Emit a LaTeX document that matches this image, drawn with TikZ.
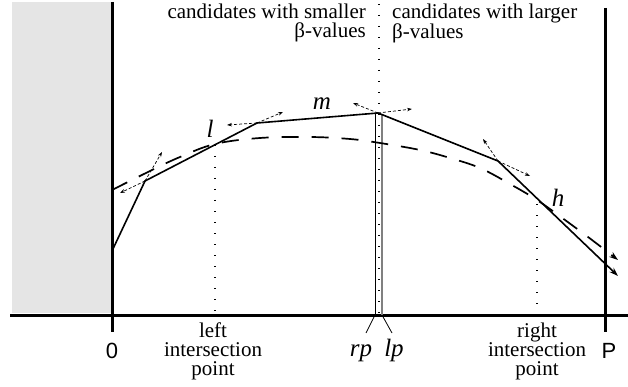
\documentclass[tikz,border=0pt]{standalone}
\usepackage{fontspec}
\setmainfont{Liberation Serif}
\newfontfamily\axfont{Liberation Sans}
\usetikzlibrary{arrows.meta}
\begin{document}
\begin{tikzpicture}[x=1pt,y=-1pt,
  txt/.style={inner sep=0pt,font=\fontsize{21}{19}\selectfont},
  txtb/.style={inner sep=0pt,font=\fontsize{21}{19}\selectfont,align=center},
  itl/.style={inner sep=0pt,font=\fontsize{25}{25}\selectfont\itshape},
  axl/.style={inner sep=0pt,font=\fontsize{22}{22}\selectfont\axfont},
  axisline/.style={line width=3pt},
  poly/.style={line width=1.6pt},
  dcurve/.style={line width=1.7pt,dash pattern=on 17pt off 13pt},
  tang/.style={line width=0.7pt,dash pattern=on 3pt off 2pt,-{Stealth[length=5pt,width=3.5pt]}},
  dotl/.style={line width=1.2pt,dash pattern=on 1pt off 10pt},
  tick/.style={line width=0.8pt}]
\useasboundingbox (0,0) rectangle (628,387);
% gray region
\fill[gray!20] (12,2) rectangle (112,313);
% key points
\coordinate (o0) at (112,332);
\coordinate (otop) at (112,2);
\coordinate (ax0) at (10,315);
\coordinate (ax1) at (628,315);
\coordinate (p0) at (605,332);
\coordinate (ptop) at (605,8);
\coordinate (a) at (112,251);
\coordinate (b) at (145,181);
\coordinate (c) at (257,123);
\coordinate (d) at (378,113);
\coordinate (e) at (498,161);
\coordinate (f) at (618,276);
% axes
\draw[axisline] (otop) -- (o0);
\draw[axisline] (ptop) -- (p0);
\draw[axisline] (ax0) -- (ax1);
% dotted verticals
\coordinate (ctop) at (379,4);
\coordinate (cbot) at (379,313);
\draw[dotl] (ctop) -- (cbot);
\coordinate (lip) at (215,145);
\coordinate (lib) at (215,313);
\draw[dotl] (lip) -- (lib);
\coordinate (rip) at (537,204);
\coordinate (rib) at (537,313);
\draw[dotl] (rip) -- (rib);
% rp / lp lines
\coordinate (rpt) at (375,113);
\coordinate (rpb) at (375,315);
\coordinate (lpt) at (382,115);
\coordinate (lpb) at (382,315);
\draw[line width=1pt] (rpt) -- (rpb);
\draw[line width=1.2pt,gray] (lpt) -- (lpb);
\coordinate (rpe) at (366,333);
\coordinate (lpe) at (392,333);
\draw[tick] (rpb) -- (rpe);
\draw[tick] (lpb) -- (lpe);
% dashed curve
\draw[dcurve,-{Stealth[length=9pt,width=6pt]}] plot[smooth,tension=0.6] coordinates
 {(112,190) (150,171) (180,157) (215,144) (260,138) (310,137) (350,139) (380,143) (420,150) (450,158) (480,168) (510,184) (537,200) (565,220) (592,240) (618,260)};
% polyline
\draw[poly,-{Stealth[length=9pt,width=6pt]}] (a) -- (b) -- (c) -- (d) -- (e) -- (f);
% tangent arrows
\coordinate (b1) at (120,193);
\coordinate (b2) at (162,152);
\coordinate (c1) at (227,125);
\coordinate (c2) at (283,112);
\coordinate (d1) at (353,103);
\coordinate (d2) at (412,109);
\coordinate (e1) at (483,139);
\coordinate (e2) at (530,176);
\draw[tang] (b) -- (b1);
\draw[tang] (b) -- (b2);
\draw[tang] (c) -- (c1);
\draw[tang] (c) -- (c2);
\draw[tang] (d) -- (d1);
\draw[tang] (d) -- (d2);
\draw[tang] (e) -- (e1);
\draw[tang] (e) -- (e2);
% labels
\node[itl,anchor=base] (ll) at (210,138) {l};
\node[itl,anchor=base] (lm) at (322,110) {m};
\node[itl,anchor=base] (lh) at (558,207) {h};
\node[itl,anchor=base] (lrp) at (361,356) {rp};
\node[itl,anchor=base] (llp) at (394,356) {lp};
\node[axl,anchor=base] (l0) at (112,358) {0};
\node[axl,anchor=base] (lP) at (609,358) {P};
\node[txt,align=right,anchor=north east] (sm) at (366,3.5) {candidates with smaller\\β-values};
\node[txt,align=left,anchor=north west] (lg) at (392,3.5) {candidates with larger\\β-values};
\node[txtb,anchor=north] (li) at (213,322.7) {left\\intersection\\point};
\node[txtb,anchor=north] (ri) at (537,322.7) {right\\intersection\\point};
\end{tikzpicture}
\end{document}
